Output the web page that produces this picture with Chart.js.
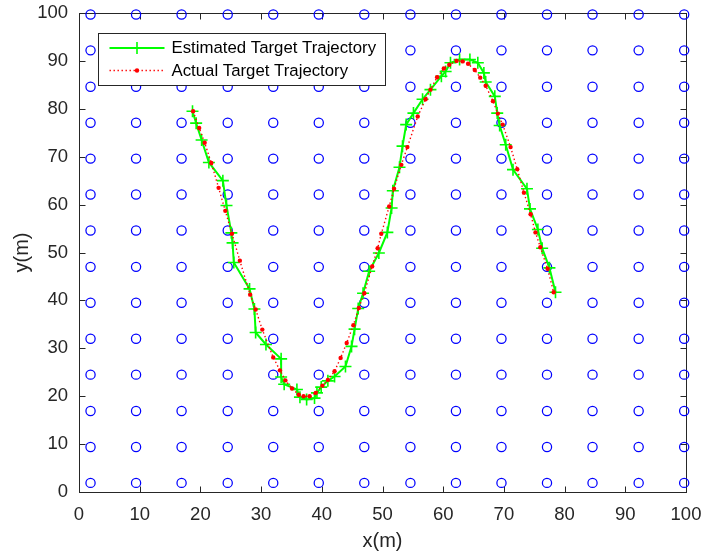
<!DOCTYPE html>
<html>
<head>
<meta charset="utf-8">
<script src="https://cdn.jsdelivr.net/npm/chart.js@4/dist/chart.umd.min.js"></script>
<style>
  html, body { margin: 0; padding: 0; background: #ffffff; }
  #wrap { width: 704px; height: 553px; }
</style>
</head>
<body>
<div id="wrap"><canvas id="plot" width="704" height="553"></canvas></div>
<script>
// Sensor node grid coordinates (same along x and y)
const sensorGrid = [1.9, 9.4, 16.9, 24.5, 32.0, 39.5, 47.0, 54.6, 62.1, 69.6, 77.1, 84.6, 92.2, 99.7];

// Estimated target trajectory
const estX = [18.7, 19.3, 20.2, 21.4, 23.7, 24.3, 25.1, 25.3, 25.5, 28.1,
              28.9, 29.1, 30.8, 33.3, 33.3, 33.8, 35.9, 36.4, 37.5, 38.8,
              39.2, 39.9, 41.0, 42.1, 43.9, 44.9, 45.4, 46.0, 46.8, 47.8,
              49.4, 50.8, 51.5, 51.7, 52.8, 53.3, 53.9, 55.1, 56.6, 57.9,
              59.7, 60.4, 61.2, 62.7, 64.4, 65.7, 66.7, 67.0, 68.5, 68.9,
              69.3, 70.3, 71.5, 73.8, 74.3, 75.6, 76.3, 77.5, 78.5];
const estY = [79.5, 77.0, 73.5, 68.8, 65.0, 59.8, 54.1, 52.0, 47.9, 42.4,
              38.2, 33.3, 30.8, 27.8, 24.0, 22.5, 21.4, 19.8, 19.3, 19.6,
              20.7, 21.9, 23.2, 24.1, 26.2, 30.4, 34.0, 38.3, 41.5, 46.1,
              49.9, 54.2, 59.3, 62.9, 67.8, 72.2, 76.7, 79.1, 82.0, 84.0,
              86.8, 87.8, 89.6, 90.3, 90.3, 89.6, 87.5, 85.6, 82.6, 79.1,
              76.5, 72.5, 67.3, 63.3, 59.1, 54.8, 50.9, 46.8, 41.7];

// Actual target trajectory
const actX = [18.8, 19.8, 20.7, 21.8, 23.0, 24.1, 25.2, 26.5, 28.2, 29.1,
              30.2, 32.0, 33.1, 34.0, 35.1, 36.2, 37.0, 38.0, 39.0, 40.1,
              41.0, 42.1, 43.1, 44.1, 45.2, 46.1, 47.0, 48.3, 49.2, 49.8,
              51.1, 51.9, 53.1, 54.1, 55.8, 57.1, 57.9, 59.0, 60.1, 61.0,
              62.2, 63.2, 64.1, 65.2, 66.1, 67.0, 68.2, 69.0, 69.8, 71.1,
              72.2, 73.3, 74.4, 75.2, 76.0, 77.2, 78.2];
const actY = [79.5, 76.0, 72.9, 68.7, 63.5, 58.7, 53.9, 48.3, 41.2, 38.1,
              33.9, 28.1, 25.4, 23.3, 21.6, 20.3, 20.0, 20.0, 20.7, 22.2,
              23.4, 25.2, 28.0, 31.1, 34.8, 38.4, 41.5, 47.1, 50.9, 53.9,
              59.6, 63.3, 68.3, 72.0, 78.4, 82.0, 84.0, 86.6, 88.4, 89.2,
              90.0, 89.9, 89.4, 88.1, 86.5, 84.8, 81.6, 79.0, 76.7, 72.0,
              67.4, 62.5, 58.0, 54.2, 51.1, 46.6, 41.7];

// Axis ticks
const xTickValues = [0, 10, 20, 30, 40, 50, 60, 70, 80, 90, 100];
const yTickValues = [0, 10, 20, 30, 40, 50, 60, 70, 80, 90, 100];

const seriesNames = ['Estimated Target Trajectory', 'Actual Target Trajectory'];

const FONT = '"Liberation Sans", Arial, Helvetica, sans-serif';
const AXIS_COLOR = '#262626';

const toPoints = (xs, ys) => xs.map((x, i) => ({ x: x, y: ys[i] }));
const sensorPoints = [];
sensorGrid.forEach(gx => sensorGrid.forEach(gy => sensorPoints.push({ x: gx, y: gy })));

// Keep the plot box fixed: no automatic label overhang padding
const clearScalePadding = s => {
  s.paddingLeft = 0; s.paddingRight = 0; s.paddingTop = 0; s.paddingBottom = 0;
};

// Axes box with inward tick marks on all four sides
const axesFrame = {
  id: 'axesFrame',
  beforeDatasetsDraw(chart) {
    const { ctx, chartArea: a, scales } = chart;
    const L = Math.round(a.left) + 0.5, R = Math.round(a.right) + 0.5;
    const T = Math.round(a.top) + 0.5, B = Math.round(a.bottom) + 0.5;
    const len = 6;
    ctx.save();
    ctx.strokeStyle = AXIS_COLOR;
    ctx.lineWidth = 1;
    ctx.beginPath();
    scales.x.ticks.forEach(t => {
      const px = Math.round(scales.x.getPixelForValue(t.value)) + 0.5;
      ctx.moveTo(px, B); ctx.lineTo(px, B - len);
      ctx.moveTo(px, T); ctx.lineTo(px, T + len);
    });
    scales.y.ticks.forEach(t => {
      const py = Math.round(scales.y.getPixelForValue(t.value)) + 0.5;
      ctx.moveTo(L, py); ctx.lineTo(L + len, py);
      ctx.moveTo(R, py); ctx.lineTo(R - len, py);
    });
    ctx.stroke();
    ctx.strokeRect(L, T, R - L, B - T);
    ctx.restore();
  }
};

// Boxed legend with line + marker samples
const boxedLegend = {
  id: 'boxedLegend',
  afterDraw(chart) {
    const { ctx, chartArea: a } = chart;
    const bx = Math.round(a.left) + 19 + 0.5, by = Math.round(a.top) + 20 + 0.5;
    const bw = 287, bh = 52;
    ctx.save();
    ctx.fillStyle = '#ffffff';
    ctx.fillRect(bx, by, bw, bh);
    ctx.strokeStyle = AXIS_COLOR;
    ctx.lineWidth = 1;
    ctx.strokeRect(bx, by, bw, bh);

    const x0 = bx + 11, x1 = bx + 66, xm = (x0 + x1) / 2;
    const rows = [by + 14.5, by + 37];
    const ds = chart.data.datasets;
    const est = ds.find(d => d.label === seriesNames[0]);
    const act = ds.find(d => d.label === seriesNames[1]);

    // estimated sample
    ctx.strokeStyle = est.borderColor;
    ctx.lineWidth = est.borderWidth;
    ctx.beginPath(); ctx.moveTo(x0, rows[0]); ctx.lineTo(x1, rows[0]); ctx.stroke();
    ctx.lineWidth = est.pointBorderWidth;
    const r = est.pointRadius;
    ctx.beginPath();
    ctx.moveTo(xm - r, rows[0]); ctx.lineTo(xm + r, rows[0]);
    ctx.moveTo(xm, rows[0] - r); ctx.lineTo(xm, rows[0] + r);
    ctx.stroke();

    // actual sample
    ctx.strokeStyle = act.borderColor;
    ctx.lineWidth = act.borderWidth;
    ctx.setLineDash(act.borderDash);
    ctx.beginPath(); ctx.moveTo(x0, rows[1]); ctx.lineTo(x1, rows[1]); ctx.stroke();
    ctx.setLineDash([]);
    ctx.fillStyle = act.pointBackgroundColor;
    ctx.beginPath(); ctx.arc(xm, rows[1], act.pointRadius, 0, Math.PI * 2); ctx.fill();

    ctx.fillStyle = '#000000';
    ctx.font = '16.8px ' + FONT;
    ctx.textBaseline = 'middle';
    ctx.textAlign = 'left';
    ctx.fillText(seriesNames[0], bx + 73, rows[0] + 0.5);
    ctx.fillText(seriesNames[1], bx + 73, rows[1] + 0.5);
    ctx.restore();
  }
};

new Chart(document.getElementById('plot'), {
  type: 'scatter',
  data: {
    datasets: [
      {
        label: seriesNames[1],
        data: toPoints(actX, actY),
        showLine: true,
        borderColor: '#ff0000',
        borderWidth: 1.4,
        borderDash: [1.4, 2.6],
        pointStyle: 'circle',
        pointRadius: 2.2,
        pointBackgroundColor: '#ff0000',
        pointBorderWidth: 0,
        order: 0
      },
      {
        label: seriesNames[0],
        data: toPoints(estX, estY),
        showLine: true,
        borderColor: '#00ff00',
        borderWidth: 2,
        pointStyle: 'cross',
        pointRadius: 6,
        pointBorderColor: '#00ff00',
        pointBorderWidth: 1.6,
        order: 1
      },
      {
        label: 'Sensors',
        data: sensorPoints,
        showLine: false,
        pointStyle: 'circle',
        pointRadius: 4.6,
        pointBackgroundColor: 'rgba(0,0,0,0)',
        pointBorderColor: '#0000ff',
        pointBorderWidth: 1.25,
        clip: false,
        order: 2
      }
    ]
  },
  options: {
    responsive: false,
    animation: false,
    devicePixelRatio: 1,
    layout: { padding: { left: 0, top: 13, right: 18, bottom: 0 } },
    plugins: { legend: { display: false }, tooltip: { enabled: false } },
    scales: {
      x: {
        type: 'linear', min: 0, max: 100,
        afterBuildTicks: s => { s.ticks = xTickValues.map(v => ({ value: v })); },
        afterFit: s => { s.height = 61; clearScalePadding(s); },
        grid: { display: false, drawTicks: false },
        border: { display: false },
        ticks: { color: AXIS_COLOR, font: { family: FONT, size: 18.5 }, padding: 12, maxRotation: 0, autoSkip: false },
        title: { display: true, text: 'x(m)', color: AXIS_COLOR, font: { family: FONT, size: 20 }, padding: { top: 0, bottom: 0 } }
      },
      y: {
        type: 'linear', min: 0, max: 100,
        afterBuildTicks: s => { s.ticks = yTickValues.map(v => ({ value: v })); },
        afterFit: s => { s.width = 79; clearScalePadding(s); },
        grid: { display: false, drawTicks: false },
        border: { display: false },
        ticks: { color: AXIS_COLOR, font: { family: FONT, size: 18.5 }, padding: 11, autoSkip: false },
        title: { display: true, text: 'y(m)', color: AXIS_COLOR, font: { family: FONT, size: 20 }, padding: { top: 10, bottom: 0 } }
      }
    }
  },
  plugins: [axesFrame, boxedLegend]
});
</script>
</body>
</html>
